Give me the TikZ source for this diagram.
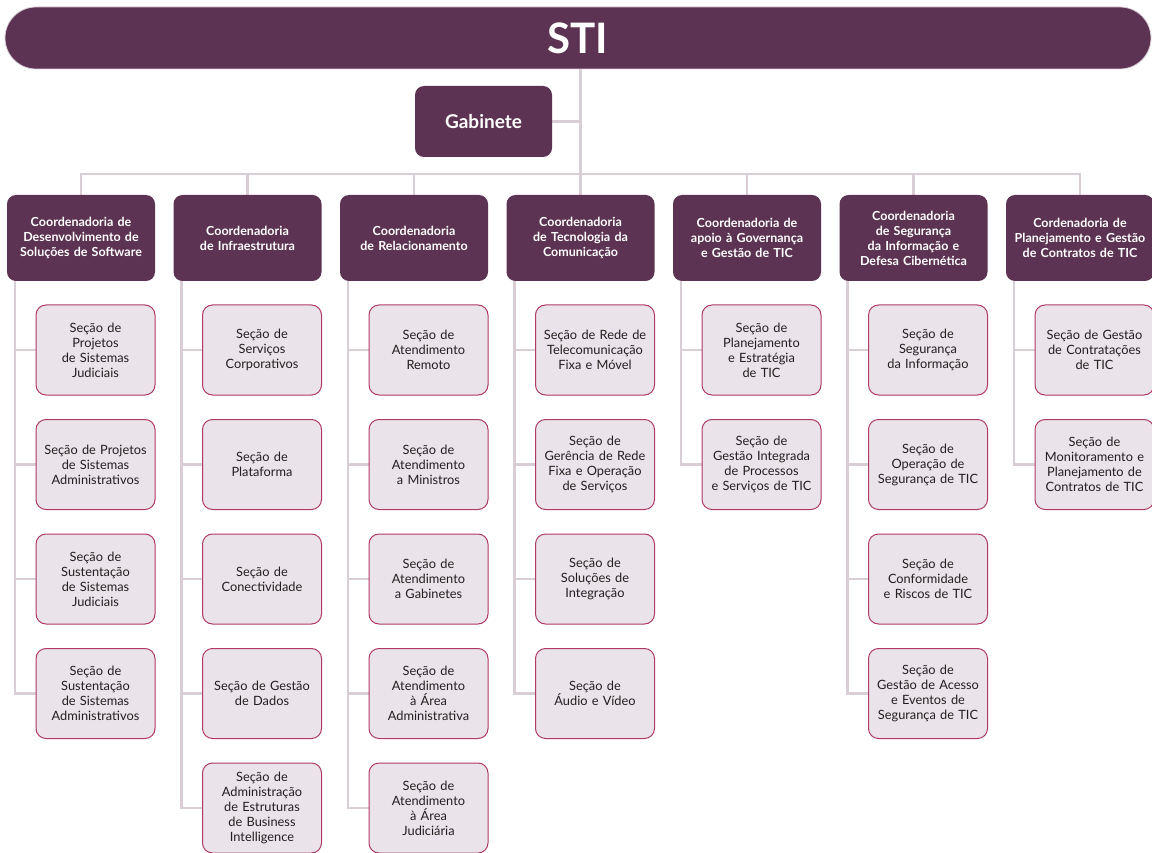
\documentclass[tikz,border=0pt]{standalone}
\usepackage{fontspec}
\setmainfont{Lato}
\usetikzlibrary{backgrounds}

\definecolor{plum}{HTML}{5C3352}
\definecolor{secfill}{HTML}{EAE3E9}
\definecolor{secline}{HTML}{B03A66}
\definecolor{linkgray}{HTML}{D9CED6}
\definecolor{textdark}{HTML}{231F20}

\tikzset{
  coord/.style={fill=plum, text=white, rounded corners=9pt, minimum width=148pt,
    minimum height=86pt, text width=146pt, align=center, inner sep=0pt,
    font=\fontsize{12.5}{15}\selectfont\bfseries},
  secao/.style={fill=secfill, draw=secline, line width=1pt, rounded corners=10pt,
    minimum width=119pt, minimum height=90pt, text width=118pt, align=center,
    inner sep=0pt, text=textdark, font=\fontsize{12.8}{15}\selectfont},
  link/.style={draw=linkgray, line width=2.6pt}
}

\begin{document}
\begin{tikzpicture}[x=1pt,y=-1pt]
\useasboundingbox (0,0) rectangle (1152,853);
% top
\node [fill=plum, draw=linkgray, line width=0.8pt, rounded corners=31pt, minimum width=1146pt,
  minimum height=62pt, text=white, font=\fontsize{42}{42}\selectfont\bfseries] (sti) at (578,38) {STI};
\node [fill=plum, text=white, rounded corners=9pt, minimum width=137pt, minimum height=71pt,
  font=\fontsize{19}{19}\selectfont\bfseries] (gab) at (483.5,121.5) {Gabinete};
% coordenadorias
\node [coord] (c1) at (81,238) {Coordenadoria de\\Desenvolvimento de\\Soluções de Software};
\node [coord] (c2) at (247.5,238) {Coordenadoria\\de Infraestrutura};
\node [coord] (c3) at (414,238) {Coordenadoria\\de Relacionamento};
\node [coord] (c4) at (580.5,238) {Coordenadoria\\de Tecnologia da\\Comunicação};
\node [coord] (c5) at (747,238) {Coordenadoria de\\apoio à Governança\\e Gestão de TIC};
\node [coord] (c6) at (913.5,238) {Coordenadoria\\de Segurança\\da Informação e\\Defesa Cibernética};
\node [coord] (c7) at (1080,238) {Cordenadoria de\\Planejamento e Gestão\\de Contratos de TIC};
% secoes
\node [secao] (s11) at (95.5,350) {Seção de\\Projetos\\de Sistemas\\Judiciais};
\node [secao] (s12) at (95.5,464.5) {Seção de Projetos\\de Sistemas\\Administrativos};
\node [secao] (s13) at (95.5,579) {Seção de\\Sustentação\\de Sistemas\\Judiciais};
\node [secao] (s14) at (95.5,693.5) {Seção de\\Sustentação\\de Sistemas\\Administrativos};
\node [secao] (s21) at (262,350) {Seção de\\Serviços\\Corporativos};
\node [secao] (s22) at (262,464.5) {Seção de\\Plataforma};
\node [secao] (s23) at (262,579) {Seção de\\Conectividade};
\node [secao] (s24) at (262,693.5) {Seção de Gestão\\de Dados};
\node [secao] (s25) at (262,808) {Seção de\\Administração\\de Estruturas\\de Business\\Intelligence};
\node [secao] (s31) at (428.5,350) {Seção de\\Atendimento\\Remoto};
\node [secao] (s32) at (428.5,464.5) {Seção de\\Atendimento\\a Ministros};
\node [secao] (s33) at (428.5,579) {Seção de\\Atendimento\\a Gabinetes};
\node [secao] (s34) at (428.5,693.5) {Seção de\\Atendimento\\à Área\\Administrativa};
\node [secao] (s35) at (428.5,808) {Seção de\\Atendimento\\à Área\\Judiciária};
\node [secao] (s41) at (595,350) {Seção de Rede de\\Telecomunicação\\Fixa e Móvel};
\node [secao] (s42) at (595,464.5) {Seção de\\Gerência de Rede\\Fixa e Operação\\de Serviços};
\node [secao] (s43) at (595,579) {Seção de\\Soluções de\\Integração};
\node [secao] (s44) at (595,693.5) {Seção de\\Áudio e Vídeo};
\node [secao] (s51) at (761.5,350) {Seção de\\Planejamento\\e Estratégia\\de TIC};
\node [secao] (s52) at (761.5,464.5) {Seção de\\Gestão Integrada\\de Processos\\e Serviços de TIC};
\node [secao] (s61) at (928,350) {Seção de\\Segurança\\da Informação};
\node [secao] (s62) at (928,464.5) {Seção de\\Operação de\\Segurança de TIC};
\node [secao] (s63) at (928,579) {Seção de\\Conformidade\\e Riscos de TIC};
\node [secao] (s64) at (928,693.5) {Seção de\\Gestão de Acesso\\e Eventos de\\Segurança de TIC};
\node [secao] (s71) at (1094.5,350) {Seção de Gestão\\de Contratações\\de TIC};
\node [secao] (s72) at (1094.5,464.5) {Seção de\\Monitoramento e\\Planejamento de\\Contratos de TIC};
% ligacoes
\begin{scope}[on background layer]
\coordinate (bus) at (0,174);
\draw [link] (c4.north |- sti.south) -- (c4.north);
\draw [link] (gab.east) -- (gab.east -| c4.north);
\draw [link] (c1.north) -- (c1.north |- bus) -| (c7.north);
\foreach \c in {c2,c3,c5,c6}
  \draw [link] (\c.north) -- (\c.north |- bus);
\foreach \s in {s11,s12,s13,s14}
  \draw [link] ([xshift=8pt,yshift=6pt]c1.south west) |- (\s.west);
\foreach \s in {s21,s22,s23,s24,s25}
  \draw [link] ([xshift=8pt,yshift=6pt]c2.south west) |- (\s.west);
\foreach \s in {s31,s32,s33,s34,s35}
  \draw [link] ([xshift=8pt,yshift=6pt]c3.south west) |- (\s.west);
\foreach \s in {s41,s42,s43,s44}
  \draw [link] ([xshift=8pt,yshift=6pt]c4.south west) |- (\s.west);
\foreach \s in {s51,s52}
  \draw [link] ([xshift=8pt,yshift=6pt]c5.south west) |- (\s.west);
\foreach \s in {s61,s62,s63,s64}
  \draw [link] ([xshift=8pt,yshift=6pt]c6.south west) |- (\s.west);
\foreach \s in {s71,s72}
  \draw [link] ([xshift=8pt,yshift=6pt]c7.south west) |- (\s.west);
\end{scope}
\end{tikzpicture}
\end{document}
